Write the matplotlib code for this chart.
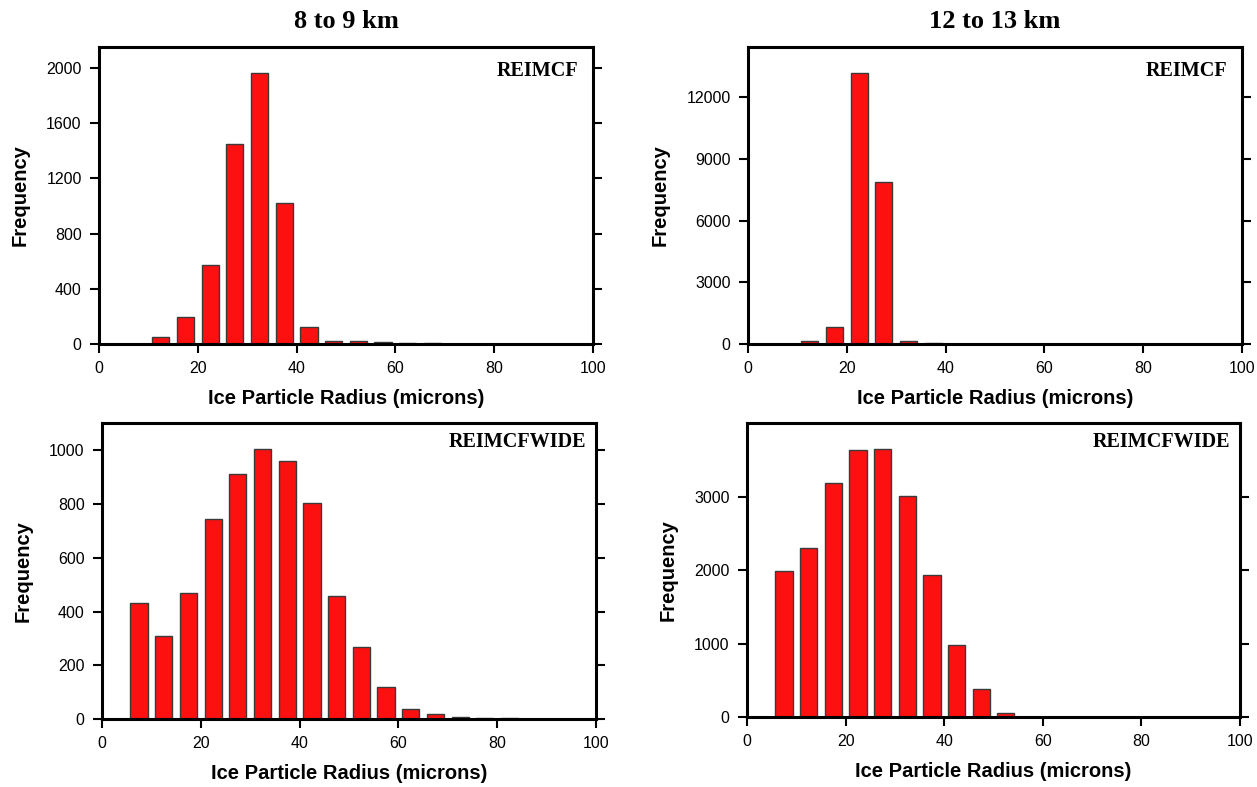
"""
Ice particle radius histograms for two altitude bands (8-9 km, 12-13 km),
comparing the REIMCF and REIMCFWIDE size distributions.
"""

import numpy as np
import matplotlib.pyplot as plt

# bin centres in microns (5 micron bins from 0 to 100)
bin_centers = np.arange(2.5, 100, 5.0)

# frequency counts per bin
reimcf_8_9 = [0, 0, 53, 193, 571, 1451, 1966, 1023, 126, 22, 22, 12, 10, 5,
              0, 0, 0, 0, 0, 0]
reimcf_12_13 = [0, 0, 130, 810, 13180, 7887, 130, 50, 0, 0,
                0, 0, 0, 0, 0, 0, 0, 0, 0, 0]
wide_8_9 = [0, 432, 308, 470, 746, 911, 1006, 959, 805, 456, 268, 119, 38, 17,
            9, 5, 4, 0, 0, 0]
wide_12_13 = [0, 1986, 2306, 3189, 3626, 3653, 3005, 1928, 982, 378, 59,
              0, 0, 0, 0, 0, 0, 0, 0, 0]

column_titles = ["8 to 9 km", "12 to 13 km"]
scheme_names = ["REIMCF", "REIMCFWIDE"]
x_ticks = [0, 20, 40, 60, 80, 100]
y_ticks = [
    [0, 400, 800, 1200, 1600, 2000],
    [0, 3000, 6000, 9000, 12000],
    [0, 200, 400, 600, 800, 1000],
    [0, 1000, 2000, 3000],
]

W, H = 1257, 787
BAR_RED = "#fc1010"
SERIF = "Liberation Serif"
SANS = "Liberation Sans"

# panel boxes in pixels: left, right, top, bottom
boxes = [
    (99, 593, 47, 344),
    (748, 1242, 47, 344),
    (102, 596, 423, 719),
    (747, 1240, 423, 717),
]
panels = [reimcf_8_9, reimcf_12_13, wide_8_9, wide_12_13]

fig = plt.figure(figsize=(W / 100, H / 100), dpi=100)

for i, (counts, box) in enumerate(zip(panels, boxes)):
    l, r, t, b = box
    ax = fig.add_axes([l / W, (H - b) / H, (r - l) / W, (b - t) / H])
    ax.bar(bin_centers, counts, width=3.5, color=BAR_RED,
           edgecolor="#3a3a3a", linewidth=1.0, zorder=2)
    ax.set_xlim(0, 100)
    ax.set_ylim(0, max(counts) * 1.095)
    ax.set_xticks(x_ticks)
    ax.set_yticks(y_ticks[i])

    for side in ("left", "right", "top", "bottom"):
        ax.spines[side].set_linewidth(2.2)
    ax.tick_params(axis="both", direction="out", length=6.5, width=1.5,
                   labelsize=11.5, pad=6)
    ax.tick_params(axis="y", right=True, labelright=False)
    ax.tick_params(axis="x", top=False)
    for lab in ax.get_xticklabels() + ax.get_yticklabels():
        lab.set_fontfamily(SANS)

    ax.set_xlabel("Ice Particle Radius (microns)", fontsize=14.5,
                  fontweight="bold", family=SANS, labelpad=9)
    ax.set_ylabel("Frequency", fontsize=14.5, fontweight="bold",
                  family=SANS, labelpad=12)

    offset = (-15, -14) if i < 2 else (-10, -9)
    ax.annotate(scheme_names[i // 2], xy=(1, 1), xycoords="axes fraction",
                xytext=offset, textcoords="offset pixels",
                ha="right", va="top", fontsize=14.5, fontweight="bold",
                family=SERIF)

    if i < 2:
        ax.set_title(column_titles[i], fontsize=19, fontweight="bold",
                     family=SERIF, pad=14)

fig.savefig("out.png", dpi=100)
